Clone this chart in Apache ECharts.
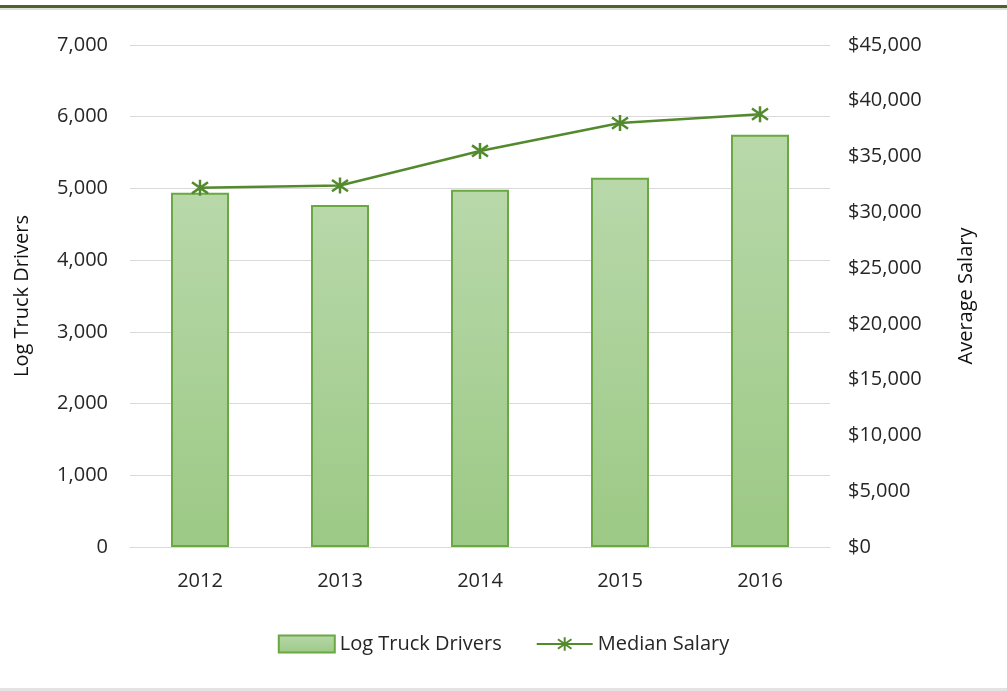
<!DOCTYPE html>
<html>
<head>
<meta charset="utf-8">
<script src="https://cdn.jsdelivr.net/npm/echarts@6/dist/echarts.min.js"></script>
<style>
  html, body { margin: 0; padding: 0; background: #fff; }
  #chart { width: 1007px; height: 691px; }
</style>
</head>
<body>
<div id="chart"></div>
<script>
const years = ['2012', '2013', '2014', '2015', '2016'];
const drivers = [4940, 4770, 4980, 5150, 5750];
const salary = [32200, 32400, 35500, 38000, 38800];

const font = '"Open Sans", sans-serif';
const txt = '#262626';
// asterisk marker like the excel one
const star = 'path://M5,0L5,10M0,1.5L10,8.5M10,1.5L0,8.5';

let chart = echarts.init(document.getElementById('chart'));
let option = {
    animation: false,
    backgroundColor: '#fff',
    textStyle: { fontFamily: font },
    graphic: [
        { type: 'rect', shape: { x: 0, y: 5, width: 1007, height: 3 }, style: { fill: '#4f6228' } },
        { type: 'rect', shape: { x: 0, y: 8, width: 1007, height: 2 }, style: { fill: '#dedede' } },
        { type: 'rect', shape: { x: 0, y: 688, width: 1007, height: 3 }, style: { fill: '#e3e3e3' } }
    ],
    grid: { left: 130, right: 177, top: 45, bottom: 144 },
    legend: {
        bottom: 32,
        left: 'center',
        itemWidth: 56,
        itemHeight: 17,
        itemGap: 34,
        textStyle: { fontSize: 20, color: txt, fontFamily: font },
        data: [{ name: 'Log Truck Drivers', icon: 'rect' }, 'Median Salary']
    },
    xAxis: {
        type: 'category',
        data: years,
        axisLine: { lineStyle: { color: '#d9d9d9', width: 1 } },
        axisTick: { show: false },
        axisLabel: { fontSize: 20, color: txt, margin: 24, fontFamily: font }
    },
    yAxis: [
        {
            type: 'value',
            min: 0, max: 7000, interval: 1000,
            name: 'Log Truck Drivers',
            nameLocation: 'middle',
            nameRotate: 90,
            nameGap: 98,
            nameTextStyle: { fontSize: 20, color: '#111', fontFamily: font },
            axisLabel: {
                fontSize: 20, color: txt, margin: 22, fontFamily: font,
                formatter: v => v.toLocaleString('en-US')
            },
            splitLine: { lineStyle: { color: '#d9d9d9' } }
        },
        {
            type: 'value',
            min: 0, max: 45000, interval: 5000,
            name: 'Average Salary',
            nameLocation: 'middle',
            nameRotate: 90,
            nameGap: 126,
            nameTextStyle: { fontSize: 20, color: '#111', fontFamily: font },
            axisLabel: {
                fontSize: 20, color: txt, margin: 18, fontFamily: font,
                formatter: v => '$' + v.toLocaleString('en-US')
            },
            splitLine: { show: false }
        }
    ],
    series: [
        {
            name: 'Log Truck Drivers',
            type: 'bar',
            barWidth: 58,
            data: drivers,
            itemStyle: {
                color: new echarts.graphic.LinearGradient(0, 0, 0, 1, [
                    { offset: 0, color: '#b8d8aa' },
                    { offset: 1, color: '#9cc985' }
                ]),
                borderColor: '#6aa842',
                borderWidth: 2
            }
        },
        {
            name: 'Median Salary',
            type: 'line',
            yAxisIndex: 1,
            data: salary,
            symbol: star,
            symbolSize: 16,
            showAllSymbol: true,
            lineStyle: { color: '#548a2e', width: 2.5 },
            itemStyle: { color: '#548a2e', borderColor: '#548a2e', borderWidth: 2.5 }
        }
    ]
};
chart.setOption(option);
</script>
</body>
</html>
